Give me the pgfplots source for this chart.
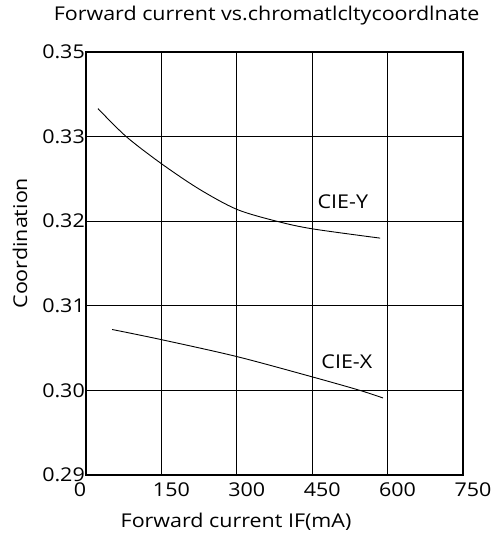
\documentclass[border=0pt]{standalone}
\usepackage{fontspec}
\setmainfont{Open Sans}[FakeStretch=1.13]
\usepackage{pgfplots}
\pgfplotsset{compat=1.18}
\begin{document}
\begin{tikzpicture}
\begin{axis}[
  scale only axis,
  width=377pt, height=423pt,
  xmin=0, xmax=750, ymin=0.29, ymax=0.34,
  xtick={0,150,300,450,600,750},
  xticklabels={{\makebox[0pt][c]{\hspace{-32pt}0}},150,300,450,600,750},
  ytick={0.29,0.30,0.31,0.32,0.33,0.34},
  yticklabels={0.29,0.30,0.31,0.32,0.33,0.35},
  /pgf/number format/assume math mode=true,
  grid=major,
  major grid style={black, line width=1.1pt},
  axis line style={black, line width=1.3pt},
  major tick length=0pt,
  tick label style={font=\fontsize{19}{22}\selectfont},
  xticklabel style={xshift=10pt, yshift=-8pt, inner ysep=0pt},
  yticklabel style={inner xsep=1pt, inner ysep=0pt},
  label style={font=\fontsize{19}{22}\selectfont},
  title style={font=\fontsize{19}{22}\selectfont, at={(axis description cs:0.479,1.073)}, anchor=center},
  xlabel style={at={(axis description cs:0.398,-0.111)}, anchor=center},
  ylabel style={at={(axis description cs:-0.175,0.548)}, anchor=center},
  title={Forward current vs.chromatlcltycoordlnate},
  xlabel={Forward current IF(mA)},
  ylabel={Coordination},
  clip=false,
]
\addplot[black, line width=0.9pt, smooth] coordinates {
  (24,0.3333) (80,0.3300) (150,0.3268) (225,0.3238) (300,0.3214) (379,0.3200) (450,0.3191) (585,0.3180)
};
\addplot[black, line width=0.9pt, smooth] coordinates {
  (52,0.3072) (150,0.3060) (300,0.3040) (450,0.3016) (545,0.3000) (591,0.2991)
};
\node[font=\fontsize{19}{22}\selectfont] at (axis cs:511,0.3223) {CIE-Y};
\node[font=\fontsize{19}{22}\selectfont] at (axis cs:519,0.3034) {CIE-X};
\coordinate (bl) at (rel axis cs:0,0);
\coordinate (tr) at (rel axis cs:1,1);
\end{axis}
\pgfresetboundingbox
\path[use as bounding box] ([shift={(-86pt,-62pt)}]bl) rectangle ([shift={(36pt,52pt)}]tr);
\end{tikzpicture}
\end{document}
